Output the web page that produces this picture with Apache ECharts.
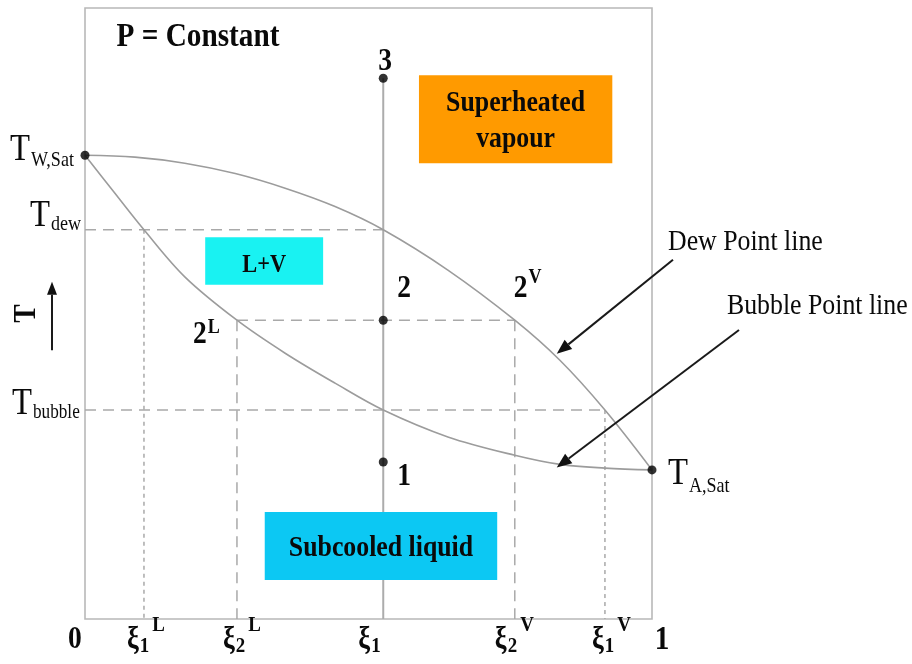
<!DOCTYPE html>
<html>
<head>
<meta charset="utf-8">
<script src="https://cdn.jsdelivr.net/npm/echarts@6/dist/echarts.min.js"></script>
<style>
  html, body { margin: 0; padding: 0; background: #fff; }
  #chart { width: 912px; height: 664px; }
</style>
</head>
<body>
<div id="chart"></div>
<script>
// T–ξ phase diagram of a binary mixture at constant pressure.
// ξ runs from 0 (pure water) to 1 (pure ammonia); T is on a relative 0–100 scale.

// Dew point line (upper curve)
const dewXi = [0, 0.088, 0.176, 0.265, 0.353, 0.441, 0.526, 0.640, 0.758, 0.838, 0.917, 1];
const dewT  = [75.9, 75.6, 74.6, 72.9, 70.5, 67.5, 63.7, 57.1, 48.9, 42.3, 34.2, 24.4];

// Bubble point line (lower curve)
const bubbleXi = [0, 0.050, 0.104, 0.176, 0.268, 0.353, 0.441, 0.526, 0.640, 0.758, 0.838, 0.917, 1];
const bubbleT  = [75.9, 70.0, 63.7, 56.0, 48.9, 43.5, 38.6, 34.2, 29.8, 26.8, 25.3, 24.7, 24.4];

// Characteristic compositions
const xi1L = 0.104, xi2L = 0.268, xi1 = 0.526, xi2V = 0.758, xi1V = 0.917;

// Characteristic temperatures
const tWSat = 75.9, tASat = 24.4, tDew = 63.7, tBubble = 34.2;
const t1 = 25.7, t2 = 48.9, t3 = 88.5;

// State points drawn as dots
const stateXi = [0, 1, xi1, xi1, xi1];
const stateT  = [tWSat, tASat, t3, t2, t1];

// Tick labels along the composition axis: [value, base, subscript, superscript]
const tickValues = [0, xi1L, xi2L, xi1, xi2V, xi1V, 1];
const tickBase   = ['0', 'ξ', 'ξ', 'ξ', 'ξ', 'ξ', '1'];
const tickSub    = ['', '1', '2', '1', '2', '1', ''];
const tickSup    = ['', 'L', 'L', '', 'V', 'V', ''];

// Phase regions: [ξ from, ξ to, T from, T to]
const regionText   = ['Superheated\nvapour', 'L+V', 'Subcooled liquid'];
const regionExtent = [[0.589, 0.930, 74.6, 89.0], [0.212, 0.420, 54.7, 62.5], [0.317, 0.727, 6.4, 17.5]];
const regionColor  = ['#FF9A00', '#19F2F2', '#0CC8F3'];

const pair = (xs, ys) => xs.map((x, i) => [x, ys[i]]);

const GUIDE = '#a9a9a9';
const dashed = [11, 7];
const dotted = [4, 4];

function guide(points, dash) {
  return {
    type: 'line', data: points, showSymbol: false, silent: true, z: 1,
    lineStyle: { color: GUIDE, width: 1.5, type: dash }
  };
}

const option = {
  animation: false,
  backgroundColor: '#fff',
  grid: { left: 85, right: 260, top: 8, bottom: 45, show: true, borderColor: '#b8b8b8', borderWidth: 1.6 },
  xAxis: {
    type: 'value', min: 0, max: 1,
    axisLine: { show: false }, axisTick: { show: false }, axisLabel: { show: false }, splitLine: { show: false }
  },
  yAxis: {
    type: 'value', min: 0, max: 100,
    axisLine: { show: false }, axisTick: { show: false }, axisLabel: { show: false }, splitLine: { show: false }
  },
  series: [
    guide([[0, tDew], [xi1, tDew]], dashed),
    guide([[0, tBubble], [xi1V, tBubble]], dashed),
    guide([[xi2L, t2], [xi2V, t2]], dashed),
    guide([[xi1L, tDew], [xi1L, 0]], dotted),
    guide([[xi2L, t2], [xi2L, 0]], dashed),
    guide([[xi2V, t2], [xi2V, 0]], dashed),
    guide([[xi1V, tBubble], [xi1V, 0]], dotted),
    {
      type: 'line', data: [[xi1, t3], [xi1, 0]], showSymbol: false, z: 2,
      lineStyle: { color: '#acacac', width: 2 }
    },
    {
      name: 'Dew Point line', type: 'line', data: pair(dewXi, dewT), smooth: 0.35, showSymbol: false, z: 3,
      lineStyle: { color: '#9c9c9c', width: 1.6 }
    },
    {
      name: 'Bubble Point line', type: 'line', data: pair(bubbleXi, bubbleT), smooth: 0.35, showSymbol: false, z: 3,
      lineStyle: { color: '#9c9c9c', width: 1.6 }
    },
    {
      type: 'scatter', data: pair(stateXi, stateT), symbolSize: 9, z: 5,
      itemStyle: { color: '#000' }
    }
  ]
};

const chart = echarts.init(document.getElementById('chart'));
chart.setOption(option);

// ---- annotations -------------------------------------------------------
const SX = 0.86;          // horizontal squeeze of the serif lettering
const INK = '#0a0a0a';
const measureCtx = document.createElement('canvas').getContext('2d');
const fontOf = (size, bold) => (bold ? 'bold ' : '') + size + 'px "Liberation Serif", "Times New Roman", serif';
const textW = (s, size, bold) => { measureCtx.font = fontOf(size, bold); return measureCtx.measureText(s).width * SX; };

function txt(x, y, s, size, bold, align, extra) {
  return Object.assign({
    type: 'text', x: x, y: y, scaleX: SX, z: 100,
    style: { text: s, font: fontOf(size, bold), fill: INK, align: align || 'left', verticalAlign: 'middle' }
  }, extra || {});
}

// Run of text pieces laid out left to right: [text, size, bold, dy]
function run(x, y, parts) {
  const out = [];
  let cx = x;
  parts.forEach(([s, size, bold, dy]) => {
    if (!s) return;
    out.push(txt(cx, y + dy, s, size, bold, 'left'));
    cx += textW(s, size, bold) + 1;
  });
  return out;
}

function arrow(x1, y1, x2, y2, len, half) {
  const a = Math.atan2(y2 - y1, x2 - x1);
  const bx = x2 - len * Math.cos(a), by = y2 - len * Math.sin(a);
  const nx = -Math.sin(a) * half, ny = Math.cos(a) * half;
  return [
    { type: 'line', z: 90, shape: { x1: x1, y1: y1, x2: bx, y2: by }, style: { stroke: '#1a1a1a', lineWidth: 2 } },
    { type: 'polygon', z: 90, shape: { points: [[x2, y2], [bx + nx, by + ny], [bx - nx, by - ny]] }, style: { fill: '#111' } }
  ];
}

function drawAnnotations() {
  const P = (xi, t) => chart.convertToPixel({ gridIndex: 0 }, [xi, t]);
  const g = [];
  const [left, bottom] = P(0, 0);
  const [right, top] = P(1, 100);

  // phase regions
  regionExtent.forEach((e, i) => {
    const [x0, y0] = P(e[0], e[3]);
    const [x1, y1] = P(e[1], e[2]);
    g.push({ type: 'rect', z: 10, shape: { x: x0, y: y0, width: x1 - x0, height: y1 - y0 }, style: { fill: regionColor[i] } });
    const size = i === 1 ? 26 : 30;
    g.push(txt((x0 + x1) / 2, (y0 + y1) / 2 + (i === 1 ? 4 : 2), regionText[i], size, true, 'center',
      { style: { text: regionText[i], font: fontOf(size, true), fill: INK, align: 'center', verticalAlign: 'middle', lineHeight: 36 } }));
  });

  // title
  g.push(txt(left + 113, top + 29, 'P = Constant', 34, true, 'center'));

  // state point numbers
  const p3 = P(xi1, t3), p2 = P(xi1, t2), p1 = P(xi1, t1);
  g.push(txt(p3[0] + 2, p3[1] - 17, '3', 32, true, 'center'));
  g.push(txt(p2[0] + 21, p2[1] - 31, '2', 32, true, 'center'));
  g.push(txt(p1[0] + 21, p1[1] + 15, '1', 32, true, 'center'));
  const p2L = P(xi2L, t2), p2V = P(xi2V, t2);
  g.push(...run(p2L[0] - 44, p2L[1] + 15, [['2', 32, true, 0], ['L', 21, true, -8]]));
  g.push(...run(p2V[0] - 1, p2V[1] - 31, [['2', 32, true, 0], ['V', 21, true, -12]]));

  // temperature labels on the left and right
  const pW = P(0, tWSat), pDew = P(0, tDew), pBub = P(0, tBubble), pA = P(1, tASat);
  g.push(...run(left - 75, pW[1] - 5, [['T', 38, false, 0], ['W,Sat', 21, false, 10]]));
  g.push(...run(left - 55, pDew[1] - 14, [['T', 38, false, 0], ['dew', 21, false, 9]]));
  g.push(...run(left - 73, pBub[1] - 6, [['T', 38, false, 0], ['bubble', 20, false, 9]]));
  g.push(...run(right + 16, pA[1] + 4, [['T', 38, false, 0], ['A,Sat', 21, false, 13]]));

  // vertical axis title with upward arrow
  g.push(txt(left - 58, (top + bottom) / 2 + 0, 'T', 32, true, 'center', { rotation: Math.PI / 2 }));
  const ay1 = P(0, 44.0)[1], ay2 = P(0, 55.2)[1];
  g.push(...arrow(left - 33, ay1, left - 33, ay2, 13, 5));

  // composition axis labels
  const subOff = [0, 6, 6, 6, 6, 6, 0];
  const baseShift = [-10, -17, -14, -25, -20, -13, 10];
  tickValues.forEach((v, i) => {
    const x = P(v, 0)[0] + baseShift[i];
    const y = bottom + 21;
    if (!tickSub[i]) {
      g.push(txt(x, y, tickBase[i], i === 6 ? 34 : 32, true, 'center'));
      return;
    }
    const parts = [[tickBase[i], 31, true, 0], [tickSub[i], 22, true, subOff[i]]];
    g.push(...run(x, y, parts));
    if (tickSup[i]) {
      const w = textW(tickBase[i], 31, true) + textW(tickSub[i], 22, true) + 4;
      g.push(txt(x + w, y - 15, tickSup[i], 22, true, 'left'));
    }
  });

  // curve call-outs
  g.push(txt(right + 16, P(0, 61.6)[1], 'Dew Point line', 30, false, 'left'));
  g.push(txt(right + 75, P(0, 51.2)[1], 'Bubble Point line', 30, false, 'left'));
  const dTip = P(0.832, 43.4), bTip = P(0.832, 24.8);
  g.push(...arrow(right + 21, P(0, 58.8)[1], dTip[0], dTip[1], 15, 6));
  g.push(...arrow(right + 87, P(0, 47.3)[1], bTip[0], bTip[1], 15, 6));

  chart.setOption({ graphic: { elements: g } });
}

drawAnnotations();
</script>
</body>
</html>
